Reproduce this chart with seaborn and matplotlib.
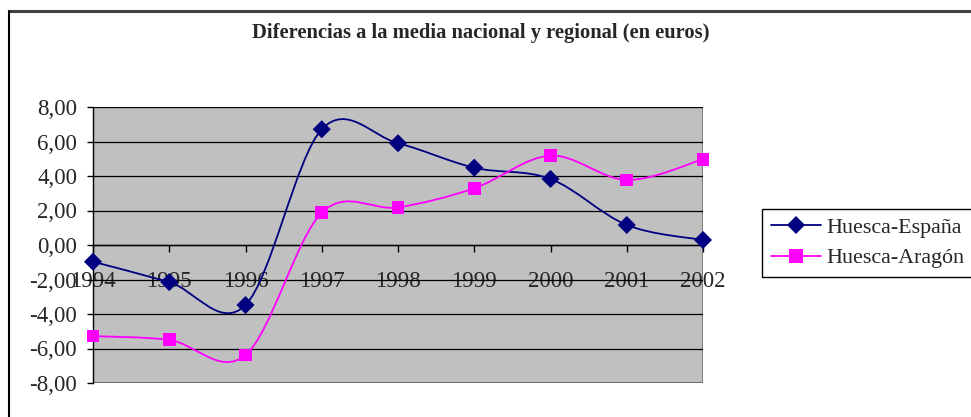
import numpy as np
import pandas as pd
import seaborn as sns
import matplotlib.pyplot as plt
from matplotlib.path import Path
from matplotlib.patches import PathPatch, Rectangle
from matplotlib.lines import Line2D
from matplotlib.ticker import FuncFormatter

# datos
years = [1994, 1995, 1996, 1997, 1998, 1999, 2000, 2001, 2002]
huesca_espana = [-0.97, -2.15, -3.48, 6.71, 5.90, 4.48, 3.83, 1.16, 0.29]
huesca_aragon = [-5.28, -5.50, -6.38, 1.87, 2.18, 3.29, 5.18, 3.77, 4.97]
series_names = ["Huesca-España", "Huesca-Aragón"]
colors = ["#000080", "#FF00FF"]
markers = ["D", "s"]

df = pd.DataFrame({
    "year": years * 2,
    "value": huesca_espana + huesca_aragon,
    "serie": [series_names[0]] * len(years) + [series_names[1]] * len(years),
})

sns.set_style("white")
plt.rcParams["font.family"] = ["Liberation Serif", "DejaVu Serif"]

fig = plt.figure(figsize=(9.71, 4.17), dpi=100)
ax = fig.add_axes([93 / 971, 34 / 417, 610 / 971, 276 / 417])
ax.set_facecolor("#C0C0C0")


def smooth_path(xs, ys, t=1 / 6):
    # Bezier curve like Excel's smoothed line
    pts = np.column_stack([xs, ys]).astype(float)
    n = len(pts)
    verts = [pts[0]]
    codes = [Path.MOVETO]
    for i in range(n - 1):
        p0 = pts[max(i - 1, 0)]
        p1 = pts[i]
        p2 = pts[i + 1]
        p3 = pts[min(i + 2, n - 1)]
        c1 = p1 + (p2 - p0) * t
        c2 = p2 - (p3 - p1) * t
        verts += [c1, c2, p2]
        codes += [Path.CURVE4] * 3
    return Path(verts, codes)


for vals, col in zip([huesca_espana, huesca_aragon], colors):
    ax.add_patch(PathPatch(smooth_path(years, vals), fill=False, edgecolor=col,
                           lw=1.3, zorder=3))

sns.scatterplot(data=df, x="year", y="value", hue="serie", style="serie",
                palette=dict(zip(series_names, colors)),
                markers=dict(zip(series_names, markers)),
                s=85, linewidth=0, legend=False, ax=ax, zorder=4)
for c in ax.collections:
    c.set_clip_on(False)

ax.set_xlim(1994, 2002)
ax.set_ylim(-8, 8)
ax.set_yticks(np.arange(-8, 9, 2))
ax.set_xticks(years)
ax.yaxis.set_major_formatter(FuncFormatter(lambda v, p: f"{v:.2f}".replace(".", ",")))
ax.grid(axis="y", color="black", lw=0.9)
ax.set_axisbelow(True)
ax.set_xlabel("")
ax.set_ylabel("")

ax.add_patch(Rectangle((0, 0), 1, 1, transform=ax.transAxes, fill=False,
                       edgecolor="#808080", lw=1.5, zorder=0.5))
for s in ["top", "right"]:
    ax.spines[s].set_visible(False)
ax.spines["left"].set_color("black")
ax.spines["bottom"].set_color("black")
ax.spines["bottom"].set_position(("data", 0))
ax.spines["left"].set_linewidth(1)
ax.spines["bottom"].set_linewidth(1)

ax.tick_params(axis="y", direction="out", length=4.5, width=1, color="black",
               pad=7, labelsize=16.5, left=True)
ax.tick_params(axis="x", direction="out", length=5, width=1, color="black",
               pad=14, labelsize=16.5, bottom=True)

fig.text(481 / 971, 1 - 33 / 417, "Diferencias a la media nacional y regional (en euros)",
         ha="center", va="center", fontsize=14.8, fontweight="bold")

handles = [Line2D([], [], color=c, marker=m, lw=1.3, markersize=9.5 if m == "s" else 9,
                  markeredgewidth=0) for c, m in zip(colors, markers)]
leg = fig.legend(handles, series_names, loc="center left",
                 bbox_to_anchor=(762 / 971, 1 - 243 / 417), fontsize=15.8,
                 frameon=True, fancybox=False, edgecolor="black", framealpha=1,
                 handlelength=2.3, borderpad=0.4, labelspacing=0.45,
                 handletextpad=0.25, borderaxespad=0)
leg.get_frame().set_linewidth(1)

# marco exterior
fig.add_artist(Line2D([8.5 / 971, 1], [1 - 10.5 / 417] * 2, color="#404040", lw=2.2,
                      transform=fig.transFigure))
fig.add_artist(Line2D([8.5 / 971] * 2, [0, 1 - 10.5 / 417], color="black", lw=1.5,
                      transform=fig.transFigure))

fig.savefig("out.png", dpi=100)
